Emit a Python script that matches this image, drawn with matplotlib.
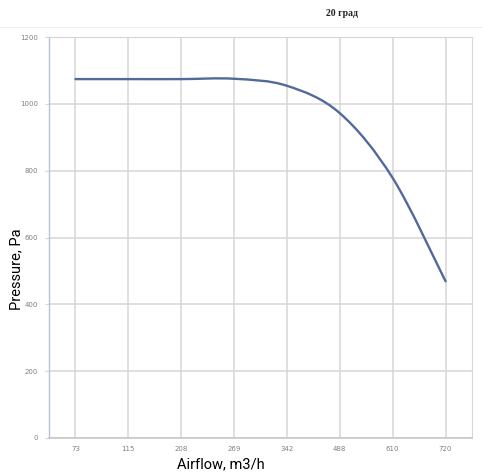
import numpy as np
import matplotlib.pyplot as plt
from matplotlib.path import Path
from matplotlib.patches import PathPatch
from matplotlib.lines import Line2D

airflow = ["73", "115", "208", "269", "342", "488", "610", "720"]
pressure = [1074, 1074, 1074, 1075, 1054, 972, 778, 469]
y_ticks = [0, 200, 400, 600, 800, 1000, 1200]

TICK_COLOR = "#808080"
GRID_COLOR = "#d6d6d6"
LINE_COLOR = "#52699a"


def smooth_path(xs, ys):
    """Bezier-Pfad wie Excel-Glaettung (Catmull-Rom)."""
    pts = np.column_stack([xs, ys]).astype(float)
    ext = np.vstack([pts[0], pts, pts[-1]])
    verts = [pts[0]]
    codes = [Path.MOVETO]
    for i in range(len(pts) - 1):
        p0, p1, p2, p3 = ext[i], ext[i + 1], ext[i + 2], ext[i + 3]
        c1 = p1 + (p2 - p0) / 6.0
        c2 = p2 - (p3 - p1) / 6.0
        verts += [c1, c2, p2]
        codes += [Path.CURVE4] * 3
    return Path(verts, codes)


fig = plt.figure(figsize=(4.82, 4.76), dpi=100)
ax = fig.add_axes([49 / 482, 1 - 438 / 476, 423 / 482, 401 / 476])

x = np.arange(len(airflow))
ax.add_patch(PathPatch(smooth_path(x, pressure), facecolor="none",
                       edgecolor=LINE_COLOR, lw=1.7, zorder=3,
                       capstyle="round"))

ax.set_xlim(-0.5, len(airflow) - 0.5)
ax.set_ylim(0, 1200)
ax.set_xticks(x)
ax.set_xticklabels(airflow)
ax.set_yticks(y_ticks)
ax.tick_params(axis="both", labelsize=5, colors=TICK_COLOR, length=3,
               width=0.8, pad=5)
ax.tick_params(axis="x", length=0, pad=6)
for lbl in ax.get_xticklabels() + ax.get_yticklabels():
    lbl.set_color(TICK_COLOR)
ax.tick_params(axis="y", color=GRID_COLOR)

ax.grid(True, color=GRID_COLOR, lw=1.1)
ax.set_axisbelow(True)

ax.spines["left"].set_color("#b7c2d9")
ax.spines["left"].set_linewidth(1.0)
ax.spines["bottom"].set_color("#c8c8c8")
ax.spines["bottom"].set_linewidth(1.2)
ax.spines["top"].set_color(GRID_COLOR)
ax.spines["right"].set_color(GRID_COLOR)

label_font = ["Roboto", "DejaVu Sans"]
fig.text(16 / 482, 1 - 269 / 476, "Pressure, Pa", rotation=90,
         ha="center", va="center", fontsize=10.5, family=label_font,
         color="black")
fig.text(221 / 482, 1 - 464 / 476, "Airflow, m3/h", ha="center",
         va="center", fontsize=10.5, family=label_font, color="black")
fig.text(342 / 482, 1 - 14 / 476, "20 град", ha="center", va="center",
         fontsize=7, family="Liberation Serif", fontweight="bold",
         color="#222222")

fig.add_artist(Line2D([0, 1], [1 - 27 / 476] * 2, color="#eeeeee",
                      lw=0.8, transform=fig.transFigure))

fig.savefig("out.png", dpi=100)
